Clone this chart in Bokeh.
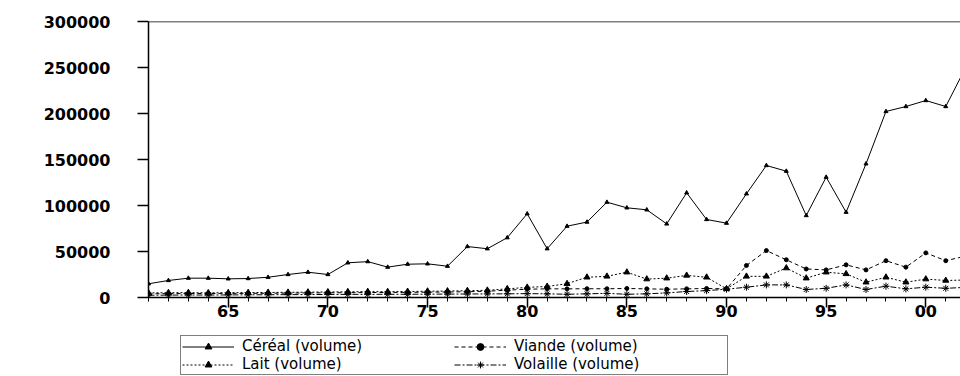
from bokeh.plotting import figure
from bokeh.layouts import column
from bokeh.models import Range1d, FixedTicker, Span, Legend, LegendItem, ColumnDataSource
from bokeh.embed import file_html
from bokeh.resources import INLINE

years = list(range(1961, 2003))

cereal = [14900, 18500, 21000, 21000, 20300, 20600, 22000, 25000, 27500, 25000,
          37700, 39000, 33000, 36200, 36600, 34000, 55400, 53000, 65000, 91000,
          53000, 77500, 82000, 103600, 97500, 95300, 80000, 113800, 84800, 80800,
          112700, 143500, 137300, 89100, 130800, 92700, 145300, 202200, 207600, 214100,
          207600, 250000]

viande = [4000, 4200, 4300, 4400, 4500, 4500, 4600, 4800, 5000, 5100,
          5200, 5400, 5500, 5600, 5800, 6000, 6300, 6800, 8000, 9000,
          9400, 9400, 9500, 9500, 9800, 9400, 9000, 9400, 9800, 9400,
          34800, 51000, 41000, 31000, 30000, 35500, 30000, 40000, 33000, 48500,
          40000, 45000]

lait = [5000, 5200, 5300, 5000, 5200, 5300, 5500, 5600, 5800, 6000,
        6200, 6400, 6300, 6500, 6800, 7000, 7400, 7800, 9400, 11000,
        12000, 15000, 22000, 23000, 27500, 20000, 21000, 24000, 22000, 9400,
        23000, 23000, 32000, 21000, 27500, 25700, 16600, 22000, 16600, 20000,
        18500, 19000]

volaille = [2500, 2600, 2700, 2700, 2800, 2900, 3000, 3100, 3200, 3300,
            3400, 3400, 3500, 3500, 3600, 3700, 3800, 3900, 4000, 4200,
            4000, 3500, 4000, 4500, 3500, 4000, 5000, 6500, 7500, 9000,
            11200, 13700, 13700, 8700, 10000, 13700, 8700, 12300, 9400, 11200,
            10000, 11000]

series_names = ["Céréal (volume)", "Viande (volume)", "Lait (volume)", "Volaille (volume)"]

x_ticks = [1965, 1970, 1975, 1980, 1985, 1990, 1995, 2000]
x_tick_labels = ["65", "70", "75", "80", "85", "90", "95", "00"]
y_ticks = [0, 50000, 100000, 150000, 200000, 250000, 300000]
y_tick_labels = ["0", "50000", "100000", "150000", "200000", "250000", "300000"]

W = 960
p = figure(width=W, height=327, x_range=Range1d(1961, 2001.74), y_range=Range1d(0, 300000),
           output_backend="svg", toolbar_location=None,
           min_border_top=21, min_border_left=148, min_border_right=0, min_border_bottom=30)
p.outline_line_color = None
p.grid.visible = False
p.background_fill_color = "white"
p.border_fill_color = "white"

# legend-only figure below the chart
lf = figure(width=W, height=49, x_range=Range1d(0, 1), y_range=Range1d(-2e6, -1.9e6),
            output_backend="svg", toolbar_location=None, x_axis_type=None, y_axis_type=None,
            min_border_top=0, min_border_left=0, min_border_right=0, min_border_bottom=0)
lf.outline_line_color = None
lf.grid.visible = False

styles = [("solid", "triangle", 4), ("4 3", "circle", 4), ("2 2", "triangle", 6), ("6 2 2 2", "asterisk", 7)]
items = {}
for name, ys, (dash, marker, size) in zip(series_names, [cereal, viande, lait, volaille], styles):
    src = ColumnDataSource(dict(x=years, y=ys))
    p.line("x", "y", source=src, line_color="black", line_width=1, line_dash=dash)
    p.scatter("x", "y", source=src, marker=marker, size=size, color="black", line_width=1)
    ln = lf.line("x", "y", source=src, line_color="black", line_width=1, line_dash=dash)
    sc = lf.scatter("x", "y", source=src, marker=marker, size=size, color="black", line_width=1)
    items[name] = LegendItem(label=name, renderers=[ln, sc])

p.add_layout(Span(location=300000, dimension="width", line_color="black", line_width=1.5))

for ax in (p.xaxis[0], p.yaxis[0]):
    ax.axis_line_color = "black"
    ax.axis_line_width = 1.5
    ax.major_tick_line_color = "black"
    ax.major_tick_line_width = 1.5
    ax.minor_tick_line_color = "black"
    ax.major_tick_in = 0
    ax.minor_tick_in = 0
    ax.major_label_text_font = "DejaVu Sans"
    ax.major_label_text_font_style = "bold"
    ax.major_label_text_font_size = "16px"
    ax.major_label_text_color = "black"

p.xaxis.ticker = FixedTicker(ticks=x_ticks, minor_ticks=years)
p.xaxis.major_label_overrides = dict(zip(x_ticks, x_tick_labels))
p.xaxis.major_tick_out = 10
p.xaxis.minor_tick_out = 4
p.xaxis.major_label_standoff = -3

p.yaxis.ticker = FixedTicker(ticks=y_ticks)
p.yaxis.major_label_overrides = dict(zip(y_ticks, y_tick_labels))
p.yaxis.major_tick_out = 11
p.yaxis.minor_tick_out = 0
p.yaxis.major_label_standoff = 27

# columns are filled top-to-bottom: Céréal / Lait, then Viande / Volaille
legend_order = ["Céréal (volume)", "Lait (volume)", "Viande (volume)", "Volaille (volume)"]
legend = Legend(items=[items[n] for n in legend_order], ncols=2, location=(32, 1),
                label_text_font="DejaVu Sans", label_text_font_size="15px",
                label_text_color="black",
                label_width=212, label_height=17, glyph_width=52, glyph_height=17,
                label_standoff=8, padding=1, spacing=0, margin=0,
                border_line_color="black", border_line_width=1)
lf.add_layout(legend, "center")

layout = column(p, lf, spacing=0)
open("out.html", "w").write(file_html(layout, INLINE))
